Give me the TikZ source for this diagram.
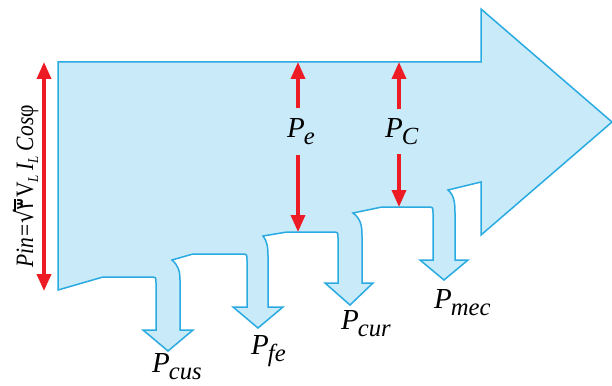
\documentclass[tikz,border=0pt]{standalone}
\usepackage{fontspec}
\setmainfont{Liberation Serif}
\newfontfamily\serfont{Liberation Serif}
\newfontfamily\arabicfont[Script=Arabic]{DejaVu Sans}
\newfontfamily\symfont{DejaVu Sans}
\usepackage{graphicx}
\usetikzlibrary{arrows.meta}
\definecolor{flowfill}{HTML}{C9EAF9}
\definecolor{flowline}{HTML}{29ABE2}
\definecolor{pred}{HTML}{ED1C24}
\newcommand\Lab[2]{\textit{#1}\kern-1pt\raisebox{-7pt}{\scalebox{0.85}{\textit{#2}}}}
\newcommand\Lsb[1]{\kern-1pt\raisebox{-5pt}{\scalebox{0.6}{\textit{#1}}}}
\newcommand\Root[1]{{\symfont √}\kern-1.5pt\vbox{\hrule height 1.3pt\kern1.5pt\hbox{#1}}}
\tikzset{
  lab/.style={inner sep=0pt, font=\serfont\fontsize{29}{32}\selectfont},
  formula/.style={inner sep=0pt, font=\serfont\fontsize{25}{30}\selectfont},
  flowshape/.style={draw=flowline, fill=flowfill, line width=1.5pt, line join=miter},
  redarrow/.style={draw=pred, line width=3.5pt, -{Triangle[width=14pt,length=17pt]}},
  redboth/.style={draw=pred, line width=3.5pt, {Triangle[width=14pt,length=17pt]}-{Triangle[width=14pt,length=17pt]}}
}
\begin{document}
\begin{tikzpicture}[x=1pt,y=-1pt]
\useasboundingbox (0,0) rectangle (612,385);
% main power-flow shape
\path[flowshape] (58,62) -- (481,62) -- (481,9) -- (612,122) -- (481,235) -- (481,182) -- (448,190)
 .. controls (455,196) and (455,205) .. (455,215) -- (455,260) -- (468,260) -- (444,280) -- (420,260) -- (433,260)
 -- (433,213) .. controls (433,207) .. (427,207) -- (382,207) -- (353,213)
 .. controls (361,219) and (362,226) .. (362,236) -- (362,283) -- (373,283) -- (350,305) -- (325,283) -- (338,283)
 -- (338,238) .. controls (338,232) .. (332,232) -- (287,232) -- (263,236)
 .. controls (267,241) and (268,247) .. (268,256) -- (268,307) -- (283,307) -- (258,328) -- (233,307) -- (247,307)
 -- (247,260) .. controls (247,254) .. (241,254) -- (193,254) -- (172,260)
 .. controls (178,265) and (180,271) .. (180,280) -- (180,330) -- (193,330) -- (168,351) -- (143,330) -- (156,330)
 -- (156,283) .. controls (156,277) .. (150,277) -- (103,277) -- (58,290) -- cycle;

% input power arrow and formula
\coordinate (pinT) at (44,62);
\coordinate (pinB) at (44,291);
\draw[redboth] (pinB) -- (pinT);
\node[formula, rotate=90, anchor=base west] (pin) at (33,268)
  {\scalebox{0.86}[1]{\textit{Pin}\kern2pt=\kern1pt\Root{\arabicfont ٣}\kern2pt V\Lsb{L}\kern6pt\textit{I}\Lsb{L}\kern6pt\textit{Cos}φ}};

% P_e
\node[lab, anchor=base west] (pe) at (287,137) {\Lab{P}{e}};
\coordinate (peTop) at (298,62);
\coordinate (peUp) at (298,108);
\coordinate (peDn) at (298,155);
\coordinate (peBot) at (298,232);
\draw[redarrow] (peUp) -- (peTop);
\draw[redarrow] (peDn) -- (peBot);

% P_C
\node[lab, anchor=base west] (pc) at (385,137) {\Lab{P}{C}};
\coordinate (pcTop) at (399,62);
\coordinate (pcUp) at (399,109);
\coordinate (pcDn) at (399,154);
\coordinate (pcBot) at (399,207);
\draw[redarrow] (pcUp) -- (pcTop);
\draw[redarrow] (pcDn) -- (pcBot);

% loss labels
\node[lab, anchor=base west] (pcus) at (152,372) {\Lab{P}{cus}};
\node[lab, anchor=base west] (pfe) at (251,354) {\Lab{P}{fe}};
\node[lab, anchor=base west] (pcur) at (341,329) {\Lab{P}{cur}};
\node[lab, anchor=base west] (pmec) at (434,308) {\Lab{P}{mec}};
\end{tikzpicture}
\end{document}
